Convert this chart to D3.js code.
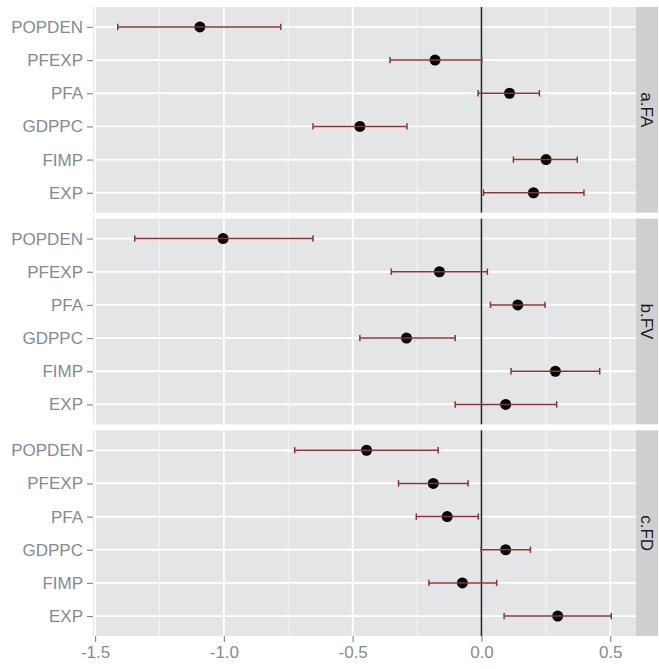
<!DOCTYPE html>
<html>
<head>
<meta charset="utf-8">
<script src="https://cdn.jsdelivr.net/npm/d3@7"></script>
<style>
  body { margin: 0; background: #fff; }
  text { font-family: "Liberation Sans", Arial, sans-serif; }
</style>
</head>
<body>
<div id="chart"></div>
<script>
// variables, top to bottom
var categories = ['POPDEN', 'PFEXP', 'PFA', 'GDPPC', 'FIMP', 'EXP'];
var panels = ['a.FA', 'b.FV', 'c.FD'];

var estA = [-1.093, -0.180, 0.109, -0.472, 0.251, 0.202];
var lowA = [-1.412, -0.355, -0.013, -0.654, 0.124, 0.008];
var upA  = [-0.779, 0.001, 0.225, -0.289, 0.372, 0.398];

var estB = [-1.003, -0.163, 0.141, -0.291, 0.287, 0.094];
var lowB = [-1.346, -0.350, 0.035, -0.472, 0.115, -0.102];
var upB  = [-0.654, 0.023, 0.247, -0.102, 0.459, 0.292];

var estC = [-0.446, -0.187, -0.133, 0.094, -0.074, 0.296];
var lowC = [-0.725, -0.322, -0.253, -0.001, -0.204, 0.088];
var upC  = [-0.168, -0.052, -0.012, 0.190, 0.059, 0.504];

var xTicks = [-1.5, -1.0, -0.5, 0.0, 0.5];
var xTickLabels = ['-1.5', '-1.0', '-0.5', '0.0', '0.5'];
var xMinor = [-1.25, -0.75, -0.25, 0.25];

var svgSize = {width: 659, height: 669, margin: {top: 7, right: 23, bottom: 33, left: 93}};
var stripW = 22, gap = 6;

var ests = [estA, estB, estC], lows = [lowA, lowB, lowC], ups = [upA, upB, upC];

var svg = d3.select('#chart').append('svg')
    .attr('width', svgSize.width)
    .attr('height', svgSize.height);

var innerW = svgSize.width - svgSize.margin.left - svgSize.margin.right;
var innerH = svgSize.height - svgSize.margin.top - svgSize.margin.bottom;
var panelH = (innerH - gap * (panels.length - 1)) / panels.length;

var x = d3.scaleLinear()
    .domain([-1.508, 0.6])
    .range([svgSize.margin.left, svgSize.margin.left + innerW]);

var txtCol = '#828b94';

panels.forEach(function(p, i) {
    var top = svgSize.margin.top + i * (panelH + gap);
    var y = d3.scalePoint().domain(categories).range([top, top + panelH]).padding(0.6);
    var g = svg.append('g');

    g.append('rect')
        .attr('x', x.range()[0]).attr('y', top)
        .attr('width', innerW).attr('height', panelH)
        .attr('fill', '#e4e5e7');

    // minor grid
    g.selectAll('.minor').data(xMinor).enter().append('line')
        .attr('x1', d => x(d)).attr('x2', d => x(d))
        .attr('y1', top).attr('y2', top + panelH)
        .attr('stroke', '#f1f2f3').attr('stroke-width', 1.2);
    // major grid
    g.selectAll('.majx').data(xTicks).enter().append('line')
        .attr('x1', d => x(d)).attr('x2', d => x(d))
        .attr('y1', top).attr('y2', top + panelH)
        .attr('stroke', '#fff').attr('stroke-width', 1.8);
    g.selectAll('.majy').data(categories).enter().append('line')
        .attr('x1', x.range()[0]).attr('x2', x.range()[1])
        .attr('y1', d => y(d)).attr('y2', d => y(d))
        .attr('stroke', '#fff').attr('stroke-width', 1.8);

    // zero line
    g.append('line')
        .attr('x1', x(0)).attr('x2', x(0))
        .attr('y1', top).attr('y2', top + panelH)
        .attr('stroke', '#1e2b2b').attr('stroke-width', 1.6);

    var rows = categories.map(function(c, k) {
        return {cat: c, est: ests[i][k], lo: lows[i][k], hi: ups[i][k]};
    });

    g.selectAll('circle').data(rows).enter().append('circle')
        .attr('cx', d => x(d.est)).attr('cy', d => y(d.cat))
        .attr('r', 5.5).attr('fill', '#000');

    var eb = g.append('g').attr('stroke', '#8e3335').attr('stroke-width', 1.5).attr('fill', 'none');
    rows.forEach(function(d) {
        var yy = y(d.cat);
        eb.append('line').attr('x1', x(d.lo)).attr('x2', x(d.hi)).attr('y1', yy).attr('y2', yy);
        eb.append('line').attr('x1', x(d.lo)).attr('x2', x(d.lo)).attr('y1', yy - 3.2).attr('y2', yy + 3.2);
        eb.append('line').attr('x1', x(d.hi)).attr('x2', x(d.hi)).attr('y1', yy - 3.2).attr('y2', yy + 3.2);
    });

    // y axis
    var ya = g.append('g').attr('transform', 'translate(' + x.range()[0] + ',0)')
        .call(d3.axisLeft(y).tickSize(6).tickPadding(4));
    ya.select('.domain').remove();
    ya.selectAll('line').attr('stroke', txtCol).attr('stroke-width', 1.2);
    ya.selectAll('text').attr('fill', txtCol).style('font-size', '17px');

    // strip
    var sx = x.range()[1];
    g.append('rect')
        .attr('x', sx).attr('y', top)
        .attr('width', stripW).attr('height', panelH)
        .attr('fill', '#cdcfd1');
    g.append('text')
        .attr('transform', 'translate(' + (sx + stripW / 2) + ',' + (top + panelH / 2) + ') rotate(90)')
        .attr('text-anchor', 'middle').attr('dy', '0.35em')
        .attr('fill', '#1a1a1a').style('font-size', '17px')
        .text(p);
});

// x axis
var xa = svg.append('g')
    .attr('transform', 'translate(0,' + (svgSize.height - svgSize.margin.bottom) + ')')
    .call(d3.axisBottom(x).tickValues(xTicks).tickFormat((d, k) => xTickLabels[k]).tickSize(6).tickPadding(4));
xa.select('.domain').remove();
xa.selectAll('line').attr('stroke', txtCol).attr('stroke-width', 1.2);
xa.selectAll('text').attr('fill', txtCol).style('font-size', '17px');
</script>
</body>
</html>
